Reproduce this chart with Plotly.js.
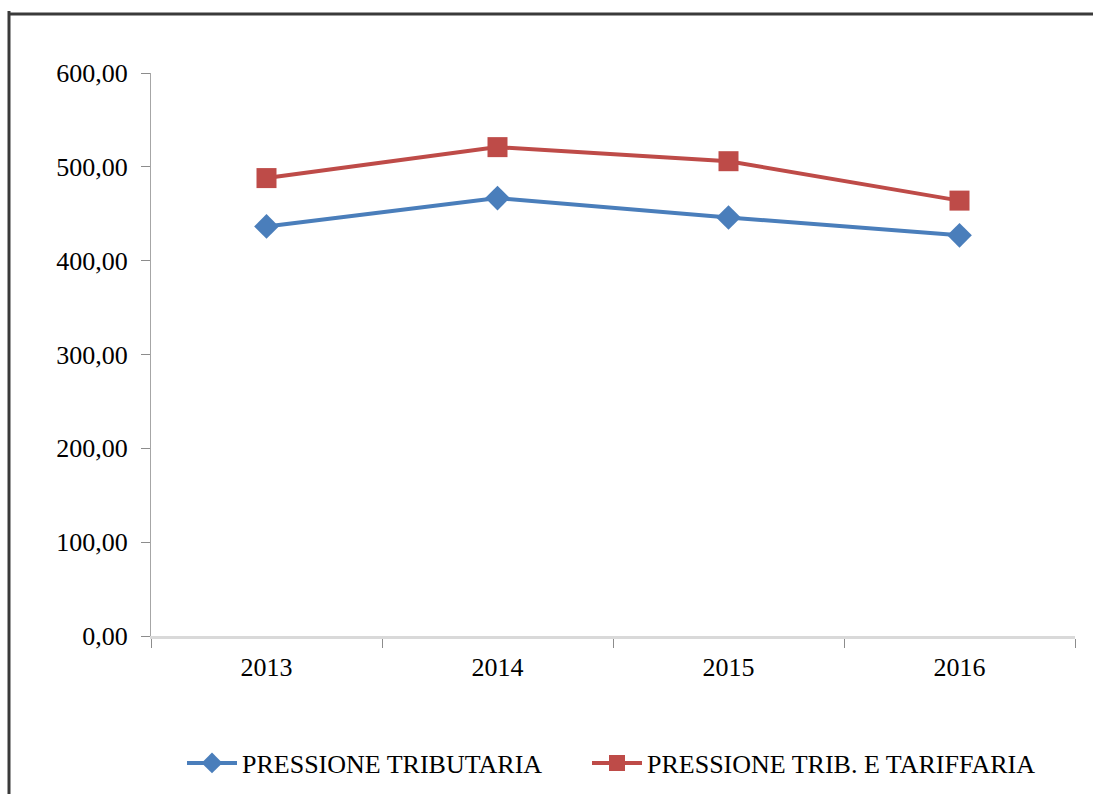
<!DOCTYPE html>
<html>
<head>
<meta charset="utf-8">
<script src="https://cdn.plot.ly/plotly-3.0.1.min.js"></script>
<style>
html,body{margin:0;padding:0;background:#fff;}
#chart{width:1093px;height:794px;}
</style>
</head>
<body>
<div id="chart"></div>
<script>
const years = ['2013', '2014', '2015', '2016'];
const pressioneTributaria = [436.5, 466.7, 446, 427];
const pressioneTribTariffaria = [488, 521, 506, 464];
const seriesNames = ['PRESSIONE TRIBUTARIA', 'PRESSIONE TRIB. E TARIFFARIA'];

const font = {family: '"Liberation Serif", "Times New Roman", serif', color: '#000'};

const traces = [
  {
    x: years, y: pressioneTributaria, name: seriesNames[0],
    type: 'scatter', mode: 'lines+markers', legend: 'legend',
    line: {color: '#4a7ebb', width: 4},
    marker: {symbol: 'diamond', size: 19, color: '#4a7ebb'}
  },
  {
    x: years, y: pressioneTribTariffaria, name: seriesNames[1],
    type: 'scatter', mode: 'lines+markers', legend: 'legend2',
    line: {color: '#be4b48', width: 4},
    marker: {symbol: 'square', size: 20, color: '#be4b48'}
  }
];

const legendBase = {
  orientation: 'h', xanchor: 'left', xref: 'container',
  y: (794 - 763) / 794, yanchor: 'middle', yref: 'container',
  font: Object.assign({}, font, {size: 26}),
  itemwidth: 50, bgcolor: 'rgba(0,0,0,0)'
};

const layout = {
  width: 1093, height: 794,
  margin: {l: 151, r: 18, t: 73, b: 158, autoexpand: false},
  paper_bgcolor: 'rgba(0,0,0,0)', plot_bgcolor: 'rgba(0,0,0,0)',
  separators: ', ',
  showlegend: true,
  legend: Object.assign({}, legendBase, {x: 182 / 1093}),
  legend2: Object.assign({}, legendBase, {x: 587 / 1093}),
  xaxis: {
    type: 'category',
    range: [-0.5, 3.5],
    tickson: 'boundaries',
    ticks: 'outside', ticklen: 9, tickcolor: '#8c8c8c', tickwidth: 1,
    showline: true, linecolor: '#d9d9d9', linewidth: 3,
    showgrid: false, zeroline: false,
    tickfont: Object.assign({}, font, {size: 26}),
    ticklabelstandoff: 6
  },
  yaxis: {
    range: [0, 600], dtick: 100, tickformat: '.2f',
    ticks: 'outside', ticklen: 9, tickcolor: '#8c8c8c', tickwidth: 1,
    showline: true, linecolor: '#a6a6a6', linewidth: 1,
    showgrid: false, zeroline: false,
    tickfont: Object.assign({}, font, {size: 26}),
    ticklabelstandoff: 8
  },
  shapes: [
    {type: 'line', xref: 'paper', yref: 'paper', x0: (9 - 151) / 924, x1: (9 - 151) / 924, y0: 1.11, y1: -0.6,
     line: {color: '#3a3a3a', width: 3}},
    {type: 'line', xref: 'paper', yref: 'paper', x0: (9 - 151) / 924, x1: 1.1, y0: (636 - 14) / 563, y1: (636 - 14) / 563,
     line: {color: '#3a3a3a', width: 3}}
  ]
};

Plotly.newPlot('chart', traces, layout, {displayModeBar: false, staticPlot: true});
</script>
</body>
</html>
